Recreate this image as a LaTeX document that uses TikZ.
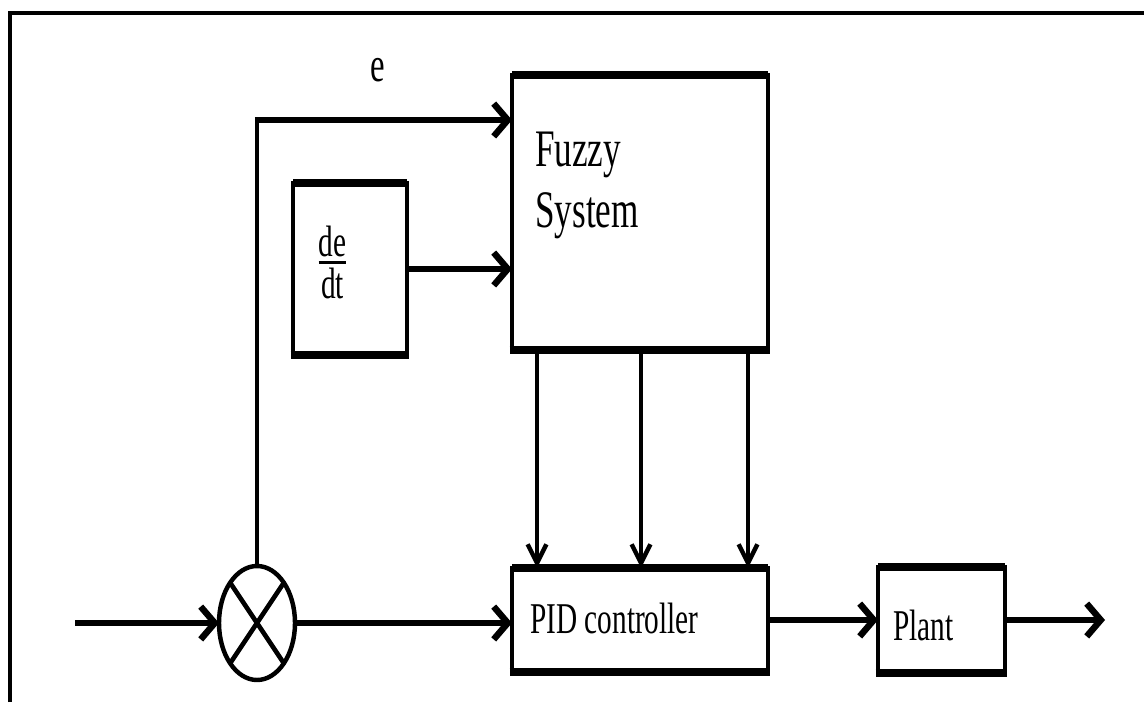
\documentclass[tikz,border=0pt]{standalone}
\usepackage{fontspec}
\setmainfont{Liberation Serif}
\usetikzlibrary{arrows.meta,shapes.geometric}
\newcommand{\tallbox}[1]{\scalebox{1}[1.5]{#1}}
\tikzset{
 blk/.style={draw,line width=4pt,rectangle,inner sep=0pt,outer sep=0pt},
 lbl/.style={inner sep=0pt,align=left},
 hsig/.style={line width=5.5pt,-{Straight Barb[length=12pt,width=28pt]}},
 vsig/.style={line width=3.8pt,-{Straight Barb[length=16pt,width=16pt]}},
}

\begin{document}
\begin{tikzpicture}[x=1cm,y=1cm]
 \useasboundingbox (0,0) rectangle (34.32,21.06);
 \draw[line width=3pt] (0.3,0)--(0.3,20.67)--(34.32,20.67);
 % blocks
 \node[blk,minimum width=7.68cm,minimum height=8.25cm] (fuzzy) at (19.2,14.685) {};
 \node[blk,minimum width=3.42cm,minimum height=5.16cm] (deriv) at (10.5,12.99) {};
 \node[blk,minimum width=7.68cm,minimum height=3.12cm] (pid) at (19.2,2.46) {};
 \node[blk,minimum width=3.81cm,minimum height=3.18cm] (plant) at (28.245,2.46) {};
 \foreach \b in {fuzzy,deriv,pid,plant}
  \draw[line width=6.5pt,shorten <=-2pt,shorten >=-2pt] (\b.north west)--(\b.north east) (\b.south west)--(\b.south east);
 \node[draw,ellipse,line width=3.8pt,minimum width=2.28cm,minimum height=3.42cm,inner sep=0pt,outer sep=0pt] (sum) at (7.71,2.37) {};
 \draw[line width=4pt] (sum.north west)--(sum.south east) (sum.north east)--(sum.south west);
 % texts
 \node[lbl,anchor=north west,font=\fontsize{30}{52}\selectfont] (fuzzytxt) at ([shift={(0.69,-1.7)}]fuzzy.north west) {\tallbox{Fuzzy}\\\tallbox{System}};
 \node[lbl,anchor=west,font=\fontsize{25}{30}\selectfont] (derivtxt) at ([shift={(0.72,0.2)}]deriv.west) {\tallbox{${\mbox{de}\above 1.8pt \mbox{dt}}$}};
 \node[lbl,anchor=base west,font=\fontsize{25}{30}\selectfont] (pidtxt) at ([shift={(0.54,-0.39)}]pid.west) {\tallbox{PID controller}};
 \node[lbl,anchor=base west,font=\fontsize{25}{30}\selectfont] (planttxt) at ([shift={(0.45,-0.6)}]plant.west) {\tallbox{Plant}};
 \node[lbl,anchor=base,font=\fontsize{28}{32}\selectfont] (elabel) at (11.34,18.6) {\tallbox{e}};
 % signals
 \coordinate (in) at (2.25,2.37);
 \coordinate (out) at (33.15,2.46);
 \coordinate (corner) at (sum.north |- 0,17.46);
 \draw[hsig] (in)--(sum);
 \draw[hsig] (sum)--(sum -| pid.west);
 \draw[line width=3.8pt] (sum.north)--([yshift=2.75pt]corner);
 \draw[hsig,shorten <=-1.9pt] (corner)--(corner -| fuzzy.west);
 \draw[hsig] (deriv)--(deriv -| fuzzy.west);
 \foreach \dx in {0.75,3.87,7.08}
  \draw[vsig] ([xshift=\dx cm]fuzzy.south west)--([xshift=\dx cm]pid.north west);
 \draw[hsig] (pid)--(plant);
 \draw[hsig] (plant)--(out);
\end{tikzpicture}
\end{document}
